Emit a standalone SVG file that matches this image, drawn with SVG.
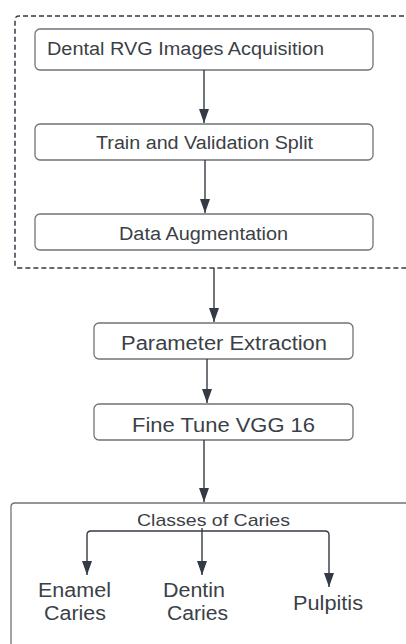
<svg xmlns="http://www.w3.org/2000/svg" width="406" height="644" viewBox="0 0 406 644">
<defs>
<style>
.box{fill:#fff;stroke:#6f737a;stroke-width:1.3}
.t{font-family:"Liberation Sans",Arial,sans-serif;fill:#3b3f47}
.c{stroke:#343a44;stroke-width:1.4;fill:none}
</style>
<marker id="ah" markerWidth="14" markerHeight="10" refX="14" refY="5" orient="auto" markerUnits="userSpaceOnUse" viewBox="0 0 14 10">
<path d="M0,0 L14,5 L0,10 Z" fill="#343a44"/>
</marker>
</defs>
<rect width="406" height="644" fill="#fff"/>
<g id="group-preprocessing">
<path d="M420,16 L19,16 Q15,16 15,20 L15,264 Q15,268 19,268 L420,268" fill="none" stroke="#343a44" stroke-width="1.5" stroke-dasharray="5,3"/>
</g>
<g id="n1">
<rect class="box" x="35" y="29" width="338" height="41" rx="5"/>
<text class="t" x="47" y="55" font-size="18" textLength="277" lengthAdjust="spacingAndGlyphs">Dental RVG Images Acquisition</text>
</g>
<g id="n2">
<rect class="box" x="35" y="124" width="338" height="36" rx="5"/>
<text class="t" x="96" y="149" font-size="18" textLength="217" lengthAdjust="spacingAndGlyphs">Train and Validation Split</text>
</g>
<g id="n3">
<rect class="box" x="35" y="214" width="338" height="36" rx="5"/>
<text class="t" x="119" y="240" font-size="18" textLength="169" lengthAdjust="spacingAndGlyphs">Data Augmentation</text>
</g>
<g id="n4">
<rect class="box" x="94" y="323" width="259" height="36" rx="5"/>
<text class="t" x="121" y="350" font-size="20" textLength="206" lengthAdjust="spacingAndGlyphs">Parameter Extraction</text>
</g>
<g id="n5">
<rect class="box" x="94" y="404" width="259" height="36" rx="5"/>
<text class="t" x="132" y="432" font-size="20" textLength="183" lengthAdjust="spacingAndGlyphs">Fine Tune VGG 16</text>
</g>
<g id="n6">
<path d="M420,503 L15,503 Q11,503 11,507 L11,660" class="box" fill="#fff"/>
<text class="t" x="137" y="526" font-size="17" textLength="153" lengthAdjust="spacingAndGlyphs">Classes of Caries</text>
</g>
<g id="n7">
<text class="t" x="38" y="597" font-size="20" textLength="73" lengthAdjust="spacingAndGlyphs">Enamel</text>
<text class="t" x="44" y="620" font-size="20" textLength="62" lengthAdjust="spacingAndGlyphs">Caries</text>
</g>
<g id="n8">
<text class="t" x="163" y="597" font-size="20" textLength="62" lengthAdjust="spacingAndGlyphs">Dentin</text>
<text class="t" x="167" y="620" font-size="20" textLength="61" lengthAdjust="spacingAndGlyphs">Caries</text>
</g>
<g id="n9">
<text class="t" x="293" y="610" font-size="20" textLength="70" lengthAdjust="spacingAndGlyphs">Pulpitis</text>
</g>
<g id="connectors">
<path class="c" d="M204,70 L204,123" marker-end="url(#ah)"/>
<path class="c" d="M205,160 L205,213" marker-end="url(#ah)"/>
<path class="c" d="M214,268 L214,322" marker-end="url(#ah)"/>
<path class="c" d="M207,359 L207,403" marker-end="url(#ah)"/>
<path class="c" d="M204,440 L204,502" marker-end="url(#ah)"/>
<path class="c" d="M202,528 L202,575" marker-end="url(#ah)"/>
<path class="c" d="M202,531 L91,531 Q87,531 87,535 L87,575" marker-end="url(#ah)"/>
<path class="c" d="M202,531 L325,531 Q329,531 329,535 L329,587" marker-end="url(#ah)"/>
</g>
</svg>
